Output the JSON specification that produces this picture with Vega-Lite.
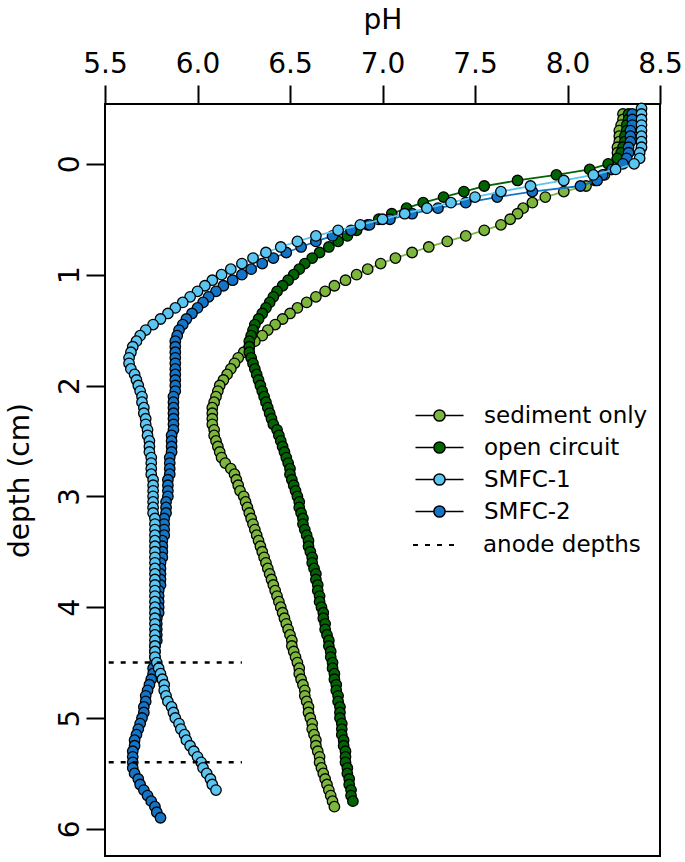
{
"$schema": "https://vega.github.io/schema/vega-lite/v6.json",
"autosize": "none",
"width": 555, "height": 752,
"padding": {"left": 105, "top": 104, "right": 25, "bottom": 6},
"background": "white",
"config": {
 "view": {"stroke": "black", "strokeWidth": 2},
 "font": "DejaVu Sans",
 "axis": {"domain": false, "grid": false, "tickColor": "black", "tickWidth": 2, "tickSize": 19, "labelColor": "black", "titleColor": "black", "labelFont": "DejaVu Sans", "titleFont": "DejaVu Sans", "labelFontSize": 28, "titleFontSize": 28, "titleFontWeight": "normal"},
 "legend": {"orient": "none", "padding": 0, "labelFont": "DejaVu Sans", "labelFontSize": 23, "labelColor": "black", "labelLimit": 400, "symbolStrokeColor": "black", "symbolStrokeWidth": 1.5, "symbolOpacity": 1}
},
"datasets": {
 "profiles": [
  {"d":-0.5,"C":8.40},
  {"d":-0.45,"A":8.30,"B":8.33,"C":8.40,"D":8.35},
  {"d":-0.4,"A":8.30,"B":8.33,"C":8.40,"D":8.35},
  {"d":-0.35,"A":8.29,"B":8.32,"C":8.40,"D":8.35},
  {"d":-0.3,"A":8.28,"B":8.32,"C":8.40,"D":8.34},
  {"d":-0.25,"A":8.28,"B":8.31,"C":8.40,"D":8.34},
  {"d":-0.2,"A":8.28,"B":8.31,"C":8.40,"D":8.34},
  {"d":-0.15,"A":8.27,"B":8.30,"C":8.40,"D":8.33},
  {"d":-0.1,"A":8.27,"B":8.29,"C":8.39,"D":8.33},
  {"d":-0.05,"A":8.27,"B":8.27,"C":8.39,"D":8.32},
  {"d":0,"A":8.26,"B":8.22,"C":8.36,"D":8.30},
  {"d":0.05,"A":8.24,"B":8.12,"C":8.26,"D":8.24},
  {"d":0.1,"A":8.20,"B":7.94,"C":8.14,"D":8.19},
  {"d":0.15,"A":8.15,"B":7.73,"C":7.98,"D":8.16},
  {"d":0.2,"A":8.10,"B":7.55,"C":7.80,"D":8.07},
  {"d":0.25,"A":7.98,"B":7.44,"C":7.64,"D":7.81},
  {"d":0.3,"A":7.88,"B":7.33,"C":7.50,"D":7.62},
  {"d":0.35,"A":7.81,"B":7.22,"C":7.37,"D":7.45},
  {"d":0.4,"A":7.76,"B":7.13,"C":7.24,"D":7.30},
  {"d":0.45,"A":7.73,"B":7.05,"C":7.12,"D":7.16},
  {"d":0.5,"A":7.69,"B":6.98,"C":7.00,"D":7.04},
  {"d":0.55,"A":7.64,"B":6.92,"C":6.88,"D":6.93},
  {"d":0.6,"A":7.55,"B":6.86,"C":6.76,"D":6.83},
  {"d":0.65,"A":7.45,"B":6.81,"C":6.64,"D":6.73},
  {"d":0.7,"A":7.35,"B":6.76,"C":6.54,"D":6.64},
  {"d":0.75,"A":7.25,"B":6.71,"C":6.45,"D":6.56},
  {"d":0.8,"A":7.16,"B":6.66,"C":6.37,"D":6.48},
  {"d":0.85,"A":7.07,"B":6.62,"C":6.30,"D":6.41},
  {"d":0.9,"A":6.99,"B":6.58,"C":6.24,"D":6.35},
  {"d":0.95,"A":6.92,"B":6.55,"C":6.18,"D":6.29},
  {"d":1.0,"A":6.86,"B":6.52,"C":6.13,"D":6.24},
  {"d":1.05,"A":6.80,"B":6.49,"C":6.08,"D":6.19},
  {"d":1.1,"A":6.74,"B":6.46,"C":6.04,"D":6.14},
  {"d":1.15,"A":6.69,"B":6.43,"C":6.00,"D":6.10},
  {"d":1.2,"A":6.64,"B":6.41,"C":5.96,"D":6.06},
  {"d":1.25,"A":6.59,"B":6.39,"C":5.92,"D":6.03},
  {"d":1.3,"A":6.54,"B":6.37,"C":5.88,"D":6.00},
  {"d":1.35,"A":6.50,"B":6.35,"C":5.84,"D":5.97},
  {"d":1.4,"A":6.46,"B":6.33,"C":5.80,"D":5.94},
  {"d":1.45,"A":6.42,"B":6.31,"C":5.76,"D":5.92},
  {"d":1.5,"A":6.38,"B":6.30,"C":5.72,"D":5.90},
  {"d":1.55,"A":6.35,"B":6.29,"C":5.69,"D":5.89},
  {"d":1.6,"A":6.31,"B":6.28,"C":5.67,"D":5.88},
  {"d":1.65,"A":6.28,"B":6.28,"C":5.65,"D":5.88},
  {"d":1.7,"A":6.25,"B":6.28,"C":5.64,"D":5.88},
  {"d":1.75,"A":6.22,"B":6.29,"C":5.63,"D":5.88},
  {"d":1.8,"A":6.20,"B":6.30,"C":5.63,"D":5.88},
  {"d":1.85,"A":6.18,"B":6.31,"C":5.64,"D":5.88},
  {"d":1.9,"A":6.16,"B":6.32,"C":5.66,"D":5.88},
  {"d":1.95,"A":6.14,"B":6.33,"C":5.67,"D":5.88},
  {"d":2.0,"A":6.12,"B":6.34,"C":5.68,"D":5.88},
  {"d":2.05,"A":6.11,"B":6.35,"C":5.69,"D":5.88},
  {"d":2.1,"A":6.10,"B":6.36,"C":5.70,"D":5.87},
  {"d":2.15,"A":6.09,"B":6.37,"C":5.70,"D":5.87},
  {"d":2.2,"A":6.08,"B":6.38,"C":5.71,"D":5.87},
  {"d":2.25,"A":6.08,"B":6.39,"C":5.71,"D":5.87},
  {"d":2.3,"A":6.08,"B":6.40,"C":5.72,"D":5.87},
  {"d":2.35,"A":6.08,"B":6.41,"C":5.72,"D":5.87},
  {"d":2.4,"A":6.09,"B":6.43,"C":5.73,"D":5.87},
  {"d":2.45,"A":6.09,"B":6.44,"C":5.73,"D":5.86},
  {"d":2.5,"A":6.10,"B":6.45,"C":5.74,"D":5.86},
  {"d":2.55,"A":6.11,"B":6.46,"C":5.74,"D":5.86},
  {"d":2.6,"A":6.12,"B":6.47,"C":5.74,"D":5.86},
  {"d":2.65,"A":6.13,"B":6.48,"C":5.75,"D":5.85},
  {"d":2.7,"A":6.15,"B":6.49,"C":5.75,"D":5.85},
  {"d":2.75,"A":6.18,"B":6.50,"C":5.75,"D":5.85},
  {"d":2.8,"A":6.20,"B":6.50,"C":5.75,"D":5.85},
  {"d":2.85,"A":6.21,"B":6.51,"C":5.76,"D":5.84},
  {"d":2.9,"A":6.22,"B":6.52,"C":5.76,"D":5.84},
  {"d":2.95,"A":6.23,"B":6.53,"C":5.76,"D":5.84},
  {"d":3.0,"A":6.25,"B":6.54,"C":5.76,"D":5.84},
  {"d":3.05,"A":6.26,"B":6.55,"C":5.76,"D":5.83},
  {"d":3.1,"A":6.27,"B":6.55,"C":5.76,"D":5.83},
  {"d":3.15,"A":6.28,"B":6.56,"C":5.76,"D":5.83},
  {"d":3.2,"A":6.29,"B":6.57,"C":5.77,"D":5.82},
  {"d":3.25,"A":6.30,"B":6.57,"C":5.77,"D":5.82},
  {"d":3.3,"A":6.31,"B":6.58,"C":5.77,"D":5.82},
  {"d":3.35,"A":6.32,"B":6.59,"C":5.77,"D":5.82},
  {"d":3.4,"A":6.33,"B":6.60,"C":5.77,"D":5.81},
  {"d":3.45,"A":6.34,"B":6.60,"C":5.77,"D":5.81},
  {"d":3.5,"A":6.35,"B":6.61,"C":5.77,"D":5.81},
  {"d":3.55,"A":6.36,"B":6.62,"C":5.77,"D":5.81},
  {"d":3.6,"A":6.37,"B":6.62,"C":5.77,"D":5.80},
  {"d":3.65,"A":6.38,"B":6.63,"C":5.77,"D":5.80},
  {"d":3.7,"A":6.39,"B":6.64,"C":5.77,"D":5.80},
  {"d":3.75,"A":6.40,"B":6.64,"C":5.77,"D":5.80},
  {"d":3.8,"A":6.41,"B":6.65,"C":5.77,"D":5.80},
  {"d":3.85,"A":6.42,"B":6.65,"C":5.77,"D":5.79},
  {"d":3.9,"A":6.43,"B":6.66,"C":5.77,"D":5.79},
  {"d":3.95,"A":6.44,"B":6.66,"C":5.77,"D":5.79},
  {"d":4.0,"A":6.45,"B":6.67,"C":5.77,"D":5.79},
  {"d":4.05,"A":6.46,"B":6.68,"C":5.77,"D":5.79},
  {"d":4.1,"A":6.47,"B":6.68,"C":5.77,"D":5.78},
  {"d":4.15,"A":6.48,"B":6.69,"C":5.77,"D":5.78},
  {"d":4.2,"A":6.49,"B":6.69,"C":5.77,"D":5.78},
  {"d":4.25,"A":6.50,"B":6.70,"C":5.77,"D":5.78},
  {"d":4.3,"A":6.51,"B":6.71,"C":5.77,"D":5.78},
  {"d":4.35,"A":6.51,"B":6.71,"C":5.77,"D":5.77},
  {"d":4.4,"A":6.52,"B":6.72,"C":5.77,"D":5.77},
  {"d":4.45,"A":6.53,"B":6.72,"C":5.77,"D":5.77},
  {"d":4.5,"A":6.54,"B":6.73,"C":5.78,"D":5.77},
  {"d":4.55,"A":6.55,"B":6.73,"C":5.79,"D":5.76},
  {"d":4.6,"A":6.55,"B":6.74,"C":5.80,"D":5.76},
  {"d":4.65,"A":6.56,"B":6.74,"C":5.81,"D":5.75},
  {"d":4.7,"A":6.57,"B":6.75,"C":5.82,"D":5.74},
  {"d":4.75,"A":6.58,"B":6.75,"C":5.82,"D":5.73},
  {"d":4.8,"A":6.58,"B":6.76,"C":5.83,"D":5.72},
  {"d":4.85,"A":6.59,"B":6.76,"C":5.84,"D":5.72},
  {"d":4.9,"A":6.60,"B":6.77,"C":5.86,"D":5.71},
  {"d":4.95,"A":6.60,"B":6.77,"C":5.87,"D":5.71},
  {"d":5.0,"A":6.61,"B":6.77,"C":5.88,"D":5.70},
  {"d":5.05,"A":6.62,"B":6.78,"C":5.90,"D":5.69},
  {"d":5.1,"A":6.62,"B":6.78,"C":5.91,"D":5.68},
  {"d":5.15,"A":6.63,"B":6.78,"C":5.93,"D":5.67},
  {"d":5.2,"A":6.64,"B":6.79,"C":5.94,"D":5.66},
  {"d":5.25,"A":6.64,"B":6.79,"C":5.96,"D":5.66},
  {"d":5.3,"A":6.65,"B":6.80,"C":5.98,"D":5.65},
  {"d":5.35,"A":6.66,"B":6.80,"C":6.00,"D":5.65},
  {"d":5.4,"A":6.66,"B":6.80,"C":6.02,"D":5.65},
  {"d":5.45,"A":6.67,"B":6.81,"C":6.03,"D":5.65},
  {"d":5.5,"A":6.68,"B":6.81,"C":6.05,"D":5.66},
  {"d":5.55,"A":6.69,"B":6.82,"C":6.07,"D":5.68},
  {"d":5.6,"A":6.70,"B":6.82,"C":6.08,"D":5.69},
  {"d":5.65,"A":6.71,"B":6.83,"C":6.10,"D":5.71},
  {"d":5.7,"A":6.72,"B":6.83,"D":5.73},
  {"d":5.75,"A":6.73,"B":6.84,"D":5.75},
  {"d":5.8,"A":6.74,"D":5.77},
  {"d":5.85,"D":5.78},
  {"d":5.9,"D":5.80}
 ],
 "anodes": [
  {"d":4.5,"lo":5.52,"hi":6.24,"label":"anode depths"},
  {"d":5.4,"lo":5.52,"hi":6.24,"label":"anode depths"}
 ],
 "series": [
  {"name":"sediment only"},{"name":"open circuit"},{"name":"SMFC-1"},{"name":"SMFC-2"}
 ]
},
"layer": [
 {
  "mark": {"type": "rule", "color": "black", "strokeWidth": 2, "strokeDash": [13, 9]},
  "encoding": {"y": {"datum": 0, "type": "quantitative", "scale": {"domain": [-0.54, 6.245], "reverse": true, "nice": false, "zero": false}}}
 },
 {
  "data": {"name": "profiles"},
  "transform": [{"fold": ["A", "B", "C", "D"], "as": ["key", "value"]}, {"filter": "datum.key == 'A' && isValid(datum.value)"}],
  "encoding": {
   "x": {"field": "value", "type": "quantitative", "scale": {"domain": [5.5, 8.5], "nice": false, "zero": false},
     "axis": {"orient": "top", "values": [5.5, 6.0, 6.5, 7.0, 7.5, 8.0, 8.5], "format": ".1f", "title": "pH", "labelPadding": 7, "titleX": 277.5, "titleY": -76, "titleBaseline": "alphabetic", "titleAlign": "center", "labelFlush": false, "labelOverlap": false}},
   "y": {"field": "d", "type": "quantitative", "scale": {"domain": [-0.54, 6.245], "reverse": true, "nice": false, "zero": false},
     "axis": {"orient": "left", "values": [0, 1, 2, 3, 4, 5, 6], "format": "d", "title": "depth (cm)", "labelAngle": 270, "labelAlign": "center", "labelBaseline": "alphabetic", "labelPadding": 8, "titleX": -85, "titleY": 376, "titleAngle": 270, "titleAlign": "center", "titleBaseline": "middle", "labelFlush": false, "labelOverlap": false}},
   "color": {"field": "key", "type": "nominal", "scale": {"domain": ["A", "B", "C", "D"], "range": ["#7DB63C", "#006400", "#5BC5F2", "#1474C6"]}, "legend": null},
   "order": {"field": "d", "type": "quantitative"}
  },
  "layer": [
   {"mark": {"type": "line", "strokeWidth": 1.8}},
   {"mark": {"type": "point", "shape": "circle", "filled": true, "size": 110, "stroke": "black", "strokeWidth": 1.3, "opacity": 1}}
  ]
 },
 {
  "data": {"name": "profiles"},
  "transform": [{"fold": ["A", "B", "C", "D"], "as": ["key", "value"]}, {"filter": "datum.key == 'B' && isValid(datum.value)"}],
  "encoding": {
   "x": {"field": "value", "type": "quantitative", "scale": {"domain": [5.5, 8.5], "nice": false, "zero": false}},
   "y": {"field": "d", "type": "quantitative", "scale": {"domain": [-0.54, 6.245], "reverse": true, "nice": false, "zero": false}},
   "color": {"field": "key", "type": "nominal", "legend": null},
   "order": {"field": "d", "type": "quantitative"}
  },
  "layer": [
   {"mark": {"type": "line", "strokeWidth": 1.8}},
   {"mark": {"type": "point", "shape": "circle", "filled": true, "size": 110, "stroke": "black", "strokeWidth": 1.3, "opacity": 1}}
  ]
 },
 {
  "data": {"name": "profiles"},
  "transform": [{"fold": ["A", "B", "C", "D"], "as": ["key", "value"]}, {"filter": "datum.key == 'D' && isValid(datum.value)"}],
  "encoding": {
   "x": {"field": "value", "type": "quantitative", "scale": {"domain": [5.5, 8.5], "nice": false, "zero": false}},
   "y": {"field": "d", "type": "quantitative", "scale": {"domain": [-0.54, 6.245], "reverse": true, "nice": false, "zero": false}},
   "color": {"field": "key", "type": "nominal", "legend": null},
   "order": {"field": "d", "type": "quantitative"}
  },
  "layer": [
   {"mark": {"type": "line", "strokeWidth": 1.8}},
   {"mark": {"type": "point", "shape": "circle", "filled": true, "size": 110, "stroke": "black", "strokeWidth": 1.3, "opacity": 1}}
  ]
 },
 {
  "data": {"name": "profiles"},
  "transform": [{"fold": ["A", "B", "C", "D"], "as": ["key", "value"]}, {"filter": "datum.key == 'C' && isValid(datum.value)"}],
  "encoding": {
   "x": {"field": "value", "type": "quantitative", "scale": {"domain": [5.5, 8.5], "nice": false, "zero": false}},
   "y": {"field": "d", "type": "quantitative", "scale": {"domain": [-0.54, 6.245], "reverse": true, "nice": false, "zero": false}},
   "color": {"field": "key", "type": "nominal", "legend": null},
   "order": {"field": "d", "type": "quantitative"}
  },
  "layer": [
   {"mark": {"type": "line", "strokeWidth": 1.8}},
   {"mark": {"type": "point", "shape": "circle", "filled": true, "size": 110, "stroke": "black", "strokeWidth": 1.3, "opacity": 1}}
  ]
 },
 {
  "data": {"name": "series"},
  "transform": [{"filter": "false"}],
  "mark": {"type": "point", "filled": true, "stroke": "black", "strokeWidth": 1.5, "opacity": 1},
  "encoding": {
   "fill": {"field": "name", "type": "nominal",
     "scale": {"domain": ["sediment only", "open circuit", "SMFC-1", "SMFC-2"], "range": ["#7DB63C", "#006400", "#5BC5F2", "#1474C6"]},
     "legend": {"title": null, "legendX": 323, "legendY": 300, "symbolType": "M-3.43,0H-0.8M0.8,0H3.43M-0.8,0A0.8,0.8,0,1,0,0.8,0A0.8,0.8,0,1,0,-0.8,0Z", "symbolSize": 196, "labelOffset": 33, "rowPadding": 8}}
  }
 },
 {
  "data": {"name": "anodes"},
  "mark": {"type": "rule", "color": "black", "strokeWidth": 2.5},
  "encoding": {
   "x": {"field": "lo", "type": "quantitative", "scale": {"domain": [5.5, 8.5], "nice": false, "zero": false}},
   "x2": {"field": "hi"},
   "y": {"field": "d", "type": "quantitative", "scale": {"domain": [-0.54, 6.245], "reverse": true, "nice": false, "zero": false}},
   "strokeDash": {"field": "label", "type": "nominal", "scale": {"domain": ["anode depths"], "range": [[5, 7]]},
     "legend": {"title": null, "legendX": 307, "legendY": 416, "symbolType": "stroke", "symbolSize": 2304, "symbolStrokeWidth": 2, "labelOffset": 21}}
  }
 }
]
}
